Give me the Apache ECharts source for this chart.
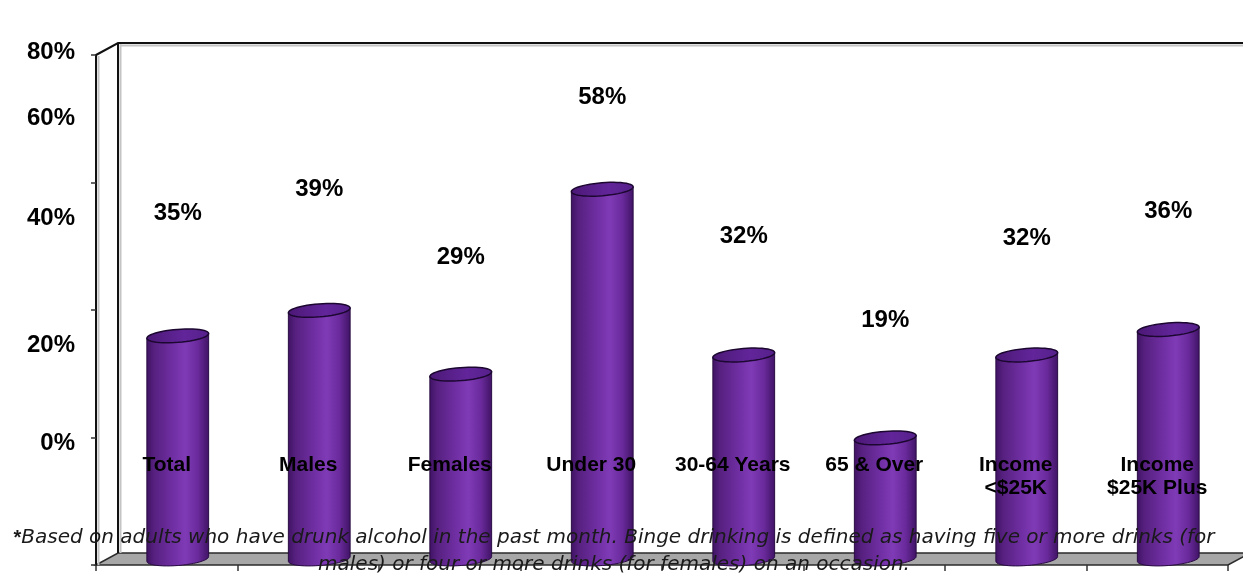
<!DOCTYPE html>
<html>
<head>
<meta charset="utf-8">
<script src="https://cdn.jsdelivr.net/npm/echarts@6/dist/echarts.min.js"></script>
<style>
  html, body { margin: 0; padding: 0; background: #fff; }
  #chart { width: 1243px; height: 577px; }
</style>
</head>
<body>
<div id="chart"></div>
<script>
// ---- data ----
const categories = ['Total', 'Males', 'Females', 'Under 30', '30-64 Years', '65 & Over', 'Income\n<$25K', 'Income\n$25K Plus'];
const bingePct = [35, 39, 29, 58, 32, 19, 32, 36];
const yTickLabels = ['0%', '20%', '40%', '60%', '80%'];
const footnoteMark = '*';
const footnoteLines = [
  'Based on adults who have drunk alcohol in the past month. Binge drinking is defined as having five or more drinks (for',
  'males) or four or more drinks (for females) on an occasion.'
];

// ---- layout / style ----
const Y_MIN = 0, Y_MAX = 80, Y_STEP = 20;
const FRONT = { left: 96, top: 55, width: 1132, height: 510 };   // front plane of the 3-D box
const DEPTH = { dx: 22, dy: -12 };                                // offset to the back wall
const MID = { left: FRONT.left + DEPTH.dx / 2, top: FRONT.top + DEPTH.dy / 2 };
const BAR_RATIO = 0.438;          // cylinder width / category band
const ELLIPSE_RY = 6.5;
const TILT = -0.08;               // cylinder caps lean up to the right
const LABEL_LIFT = [123, 121, 117, 92, 119, 118, 117, 118];  // value label distance above cap
const Y_LABEL_Y = [443, 345, 218, 118, 52];                   // axis text rows, bottom to top
const Y_LABEL_RIGHT = 75;
const BOLD_FONT = '"Liberation Sans", Arial, Helvetica, sans-serif';
const NOTE_FONT = '"DejaVu Sans", Verdana, sans-serif';
const NOTE_SIZE = 20;

function ellipsePoint(cx, cy, rx, ry, rot, th) {
  const cr = Math.cos(rot), sr = Math.sin(rot);
  const c = Math.cos(th), s = Math.sin(th);
  return [cx + rx * c * cr - ry * s * sr, cy + rx * c * sr + ry * s * cr];
}

function ellipseArc(cx, cy, rx, ry, rot, a0, a1, n) {
  const pts = [];
  for (let k = 0; k <= n; k++) {
    pts.push(ellipsePoint(cx, cy, rx, ry, rot, a0 + (a1 - a0) * k / n));
  }
  return pts;
}

function renderCylinder(params, api) {
  const i = params.dataIndex;
  const idx = api.value(0);
  const v = api.value(1);
  const topPt = api.coord([idx, v]);
  const basePt = api.coord([idx, 0]);
  const cx = topPt[0];
  const ty = topPt[1];
  const by = basePt[1];
  const rx = api.size([1, 0])[0] * BAR_RATIO / 2;

  const topRing = ellipseArc(cx, ty, rx, ELLIPSE_RY, TILT, 0, Math.PI * 2, 48);
  const bottomArc = ellipseArc(cx, by, rx, ELLIPSE_RY, TILT, Math.PI, 0, 24);
  const leftTop = ellipsePoint(cx, ty, rx, ELLIPSE_RY, TILT, Math.PI);
  const rightTop = ellipsePoint(cx, ty, rx, ELLIPSE_RY, TILT, 0);
  const bodyPts = [leftTop].concat(bottomArc, [rightTop]);

  return {
    type: 'group',
    children: [
      {
        type: 'polygon',
        shape: { points: bodyPts },
        style: {
          fill: {
            type: 'linear', x: 0, y: 0, x2: 1, y2: 0,
            colorStops: [
              { offset: 0, color: '#3e1262' },
              { offset: 0.12, color: '#56207f' },
              { offset: 0.45, color: '#7230a6' },
              { offset: 0.62, color: '#7f3bb6' },
              { offset: 0.82, color: '#6a2a9c' },
              { offset: 1, color: '#3f1364' }
            ]
          },
          stroke: '#2a0c44',
          lineWidth: 1
        }
      },
      {
        type: 'polygon',
        shape: { points: topRing },
        style: {
          fill: {
            type: 'linear', x: 0, y: 0, x2: 1, y2: 0,
            colorStops: [
              { offset: 0, color: '#4b1875' },
              { offset: 0.6, color: '#62259a' },
              { offset: 1, color: '#55208a' }
            ]
          },
          stroke: '#1c0730',
          lineWidth: 1.5
        }
      },
      {
        type: 'text',
        x: cx,
        y: ty - LABEL_LIFT[i],
        z2: 20,
        style: {
          text: bingePct[i] + '%',
          fill: '#000',
          fontFamily: BOLD_FONT,
          fontWeight: 'bold',
          fontSize: 24,
          align: 'center',
          verticalAlign: 'middle'
        }
      }
    ]
  };
}

// ---- box decorations: walls, floor, axis text ----
const FL = FRONT.left, FR = FRONT.left + FRONT.width;
const FT = FRONT.top, FB = FRONT.top + FRONT.height;
const BL = FL + DEPTH.dx, BT = FT + DEPTH.dy, BB = FB + DEPTH.dy;

const graphics = [
  // floor
  {
    type: 'polygon', z: 0,
    shape: { points: [[FL, FB], [BL, BB], [FR + DEPTH.dx, BB], [FR, FB]] },
    style: { fill: '#a7a7a7', stroke: '#2b2b2b', lineWidth: 1.5 }
  },
  // soft shadows alongside the wall edges
  { type: 'line', z: 0, shape: { x1: FL + 2.5, y1: FT + 1, x2: FL + 2.5, y2: FB }, style: { stroke: '#c4c4c4', lineWidth: 2 } },
  { type: 'line', z: 0, shape: { x1: BL + 2.5, y1: BT + 1, x2: BL + 2.5, y2: BB }, style: { stroke: '#c4c4c4', lineWidth: 2 } },
  { type: 'line', z: 0, shape: { x1: BL + 2, y1: BT + 2.5, x2: 1243, y2: BT + 2.5 }, style: { stroke: '#c4c4c4', lineWidth: 2 } },
  // left wall top edge, back-left edge, back wall top
  { type: 'polyline', z: 1, shape: { points: [[FL, FT], [BL, BT], [1243, BT]] }, style: { stroke: '#111', lineWidth: 2, fill: null } },
  { type: 'line', z: 1, shape: { x1: BL, y1: BT, x2: BL, y2: BB }, style: { stroke: '#111', lineWidth: 2 } }
];

yTickLabels.forEach((t, k) => {
  graphics.push({
    type: 'text', z: 50,
    x: Y_LABEL_RIGHT, y: Y_LABEL_Y[k],
    style: {
      text: t, fill: '#000', fontFamily: BOLD_FONT, fontWeight: 'bold', fontSize: 24,
      align: 'right', verticalAlign: 'middle'
    }
  });
});

graphics.push({
  type: 'text', z: 100,
  x: 614, y: 538,
  style: {
    text: '{m|' + footnoteMark + '}{t|' + footnoteLines[0] + '}',
    align: 'center', verticalAlign: 'middle',
    rich: {
      m: { fontFamily: BOLD_FONT, fontWeight: 'bold', fontSize: NOTE_SIZE, fill: '#1a1a1a' },
      t: { fontFamily: NOTE_FONT, fontStyle: 'italic', fontSize: NOTE_SIZE, fill: '#1a1a1a' }
    }
  }
});
graphics.push({
  type: 'text', z: 100,
  x: 614, y: 565,
  style: {
    text: footnoteLines[1],
    fontFamily: NOTE_FONT, fontStyle: 'italic', fontSize: NOTE_SIZE, fill: '#1a1a1a',
    align: 'center', verticalAlign: 'middle'
  }
});

const chart = echarts.init(document.getElementById('chart'), null, { renderer: 'canvas' });
chart.setOption({
  animation: false,
  backgroundColor: '#fff',
  grid: [
    { left: FRONT.left, top: FRONT.top, width: FRONT.width, height: FRONT.height },
    { left: MID.left, top: MID.top, width: FRONT.width, height: FRONT.height }
  ],
  xAxis: [
    {
      gridIndex: 0, type: 'category', data: categories, boundaryGap: true, z: 5,
      axisLine: { show: false },
      axisTick: { show: true, length: 6, lineStyle: { color: '#333', width: 1.5 } },
      axisLabel: {
        inside: true, margin: 111, verticalAlign: 'top', interval: 0, hideOverlap: false,
        fontFamily: BOLD_FONT, fontWeight: 'bold', fontSize: 21, lineHeight: 23, color: '#000'
      },
      splitLine: { show: false }
    },
    { gridIndex: 1, type: 'category', data: categories, boundaryGap: true, show: false }
  ],
  yAxis: [
    {
      gridIndex: 0, type: 'value', min: Y_MIN, max: Y_MAX, interval: Y_STEP,
      axisLine: { show: true, lineStyle: { color: '#111', width: 2 } },
      axisTick: { show: true, length: 5, lineStyle: { color: '#333', width: 1.5 } },
      axisLabel: { show: false },
      splitLine: { show: false }
    },
    { gridIndex: 1, type: 'value', min: Y_MIN, max: Y_MAX, interval: Y_STEP, show: false }
  ],
  graphic: { elements: graphics },
  series: [
    {
      type: 'custom',
      xAxisIndex: 1,
      yAxisIndex: 1,
      z: 2,
      data: bingePct.map((v, i) => [i, v]),
      encode: { x: 0, y: 1 },
      renderItem: renderCylinder
    }
  ]
});
</script>
</body>
</html>
